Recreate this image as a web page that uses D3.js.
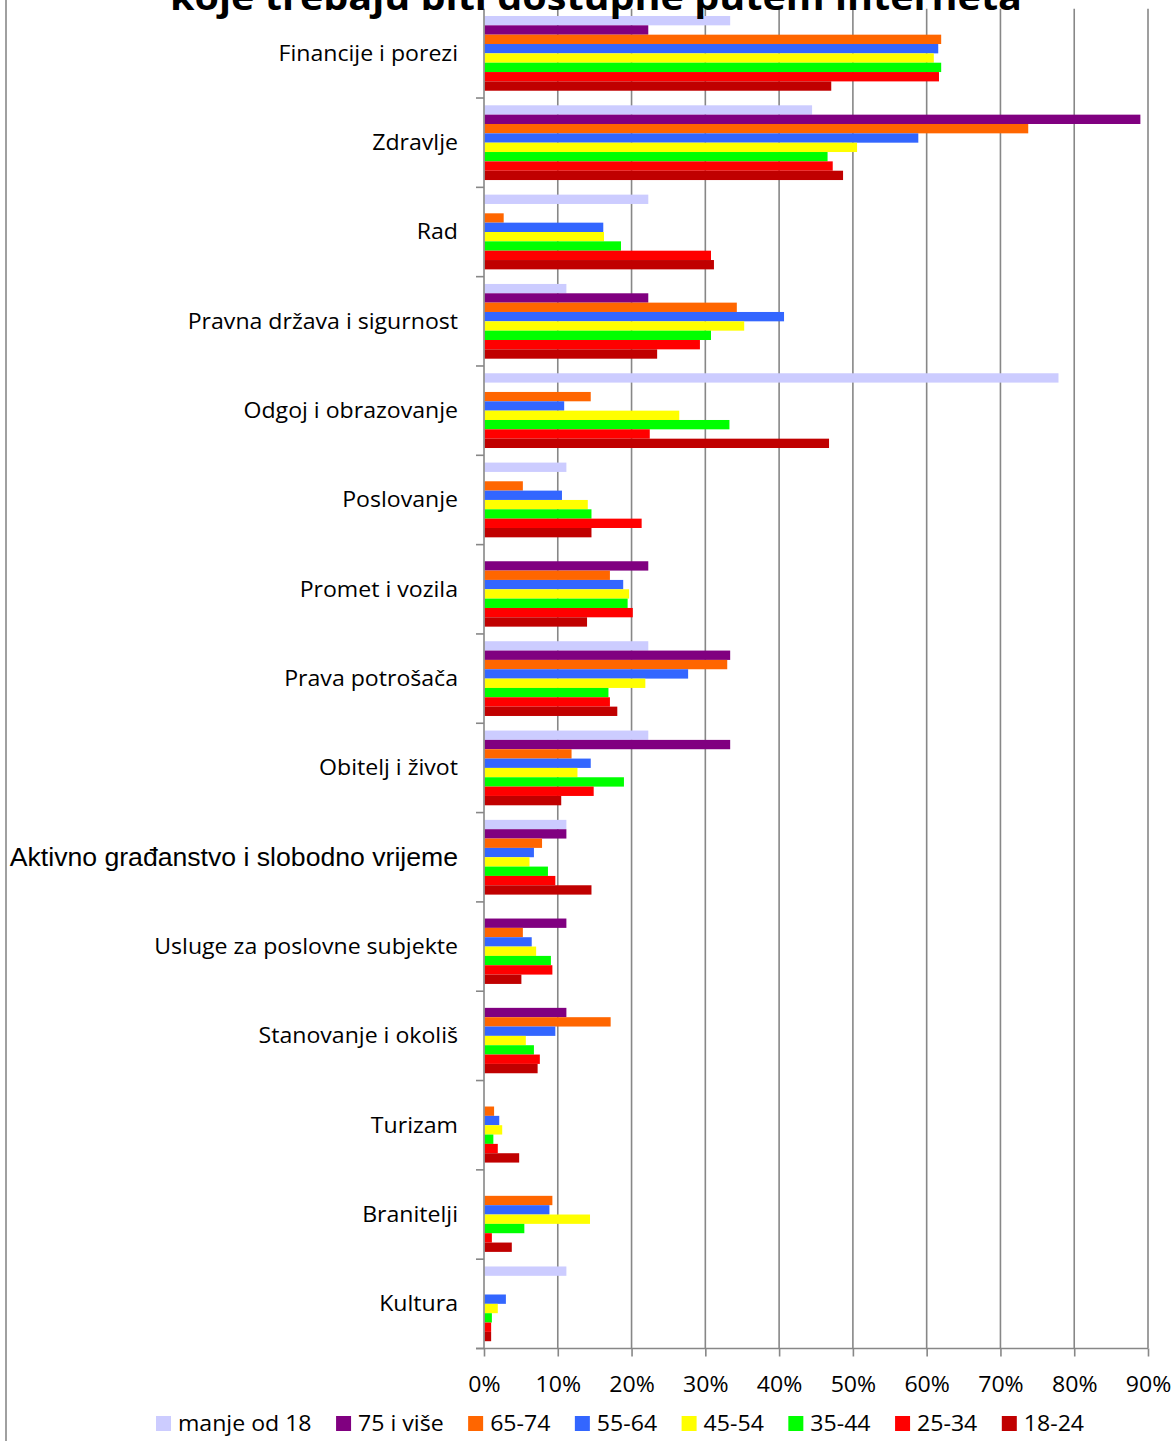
<!DOCTYPE html>
<html><head><meta charset="utf-8">
<script src="https://cdn.jsdelivr.net/npm/d3@7"></script>
<style>body{margin:0;background:#fff;} svg{display:block;}</style>
</head><body>
<svg id="c" width="1175" height="1441"></svg>
<script>
const title = "koje trebaju biti dostupne putem interneta";
const categories = ["Financije i porezi","Zdravlje","Rad","Pravna država i sigurnost","Odgoj i obrazovanje","Poslovanje","Promet i vozila","Prava potrošača","Obitelj i život","Aktivno građanstvo i slobodno vrijeme","Usluge za poslovne subjekte","Stanovanje i okoliš","Turizam","Branitelji","Kultura"];
const series = ["manje od 18","75 i više","65-74","55-64","45-54","35-44","25-34","18-24"];
const colors = ["#ccccff","#800080","#ff6600","#3366ff","#ffff00","#00ff00","#ff0000","#c00000"];
// values in %, one array per series, in category order
const manjeOd18 = [33.3,44.4,22.2,11.1,77.8,11.1,0,22.2,22.2,11.1,0,0,0,0,11.1];
const v75iVise  = [22.2,88.9,0,22.2,0,0,22.2,33.3,33.3,11.1,11.1,11.1,0,0,0];
const v65_74    = [61.9,73.7,2.6,34.2,14.4,5.2,17.0,32.9,11.8,7.8,5.2,17.1,1.3,9.2,0];
const v55_64    = [61.5,58.8,16.1,40.6,10.8,10.5,18.8,27.6,14.4,6.7,6.4,9.6,2.0,8.8,2.9];
const v45_54    = [60.9,50.5,16.2,35.2,26.4,14.0,19.6,21.8,12.6,6.1,7.0,5.6,2.4,14.3,1.8];
const v35_44    = [61.9,46.5,18.5,30.7,33.2,14.5,19.4,16.8,18.9,8.6,9.0,6.7,1.2,5.4,1.0];
const v25_34    = [61.6,47.2,30.7,29.2,22.4,21.3,20.1,17.0,14.8,9.6,9.2,7.5,1.8,1.0,0.9];
const v18_24    = [47.0,48.6,31.1,23.4,46.7,14.5,13.9,18.0,10.4,14.5,5.0,7.2,4.7,3.7,0.9];
const seriesValues = [manjeOd18,v75iVise,v65_74,v55_64,v45_54,v35_44,v25_34,v18_24];
const xTicks = [0,10,20,30,40,50,60,70,80,90];

const svg = d3.select("#c");
const FONT = "'Open Sans', sans-serif";
const ARIAL = "'Liberation Sans', Arial, sans-serif";
const SX = 1.1; // horizontal stretch to mimic reference text proportions
const gridColor = "#878787";

// left border
svg.append("line").attr("x1",6).attr("x2",6).attr("y1",0).attr("y2",1441)
  .attr("stroke","#a0a0a0").attr("stroke-width",2);

const x = d3.scaleLinear().domain([0,90]).range([484,1148]);
const y = d3.scaleBand().domain(categories).range([8.7,1348.5]).padding(0);
const yi = d3.scaleBand().domain(series).range([0,y.bandwidth()]).paddingInner(0).paddingOuter(0.78);

// gridlines
svg.append("g").selectAll("line").data(xTicks.slice(1)).join("line")
  .attr("x1",d=>x(d)).attr("x2",d=>x(d)).attr("y1",8.7).attr("y2",1348.5)
  .attr("stroke",gridColor).attr("stroke-width",1.6);

// bars
const gBars = svg.append("g");
series.forEach((s,si)=>{
  gBars.append("g").selectAll("rect").data(categories.map((c,ci)=>({c,v:seriesValues[si][ci]})).filter(d=>d.v>0))
    .join("rect")
    .attr("x",x(0)+0.5)
    .attr("y",d=>y(d.c)+yi(s))
    .attr("width",d=>x(d.v)-x(0))
    .attr("height",yi.bandwidth())
    .attr("fill",colors[si]);
});

// y axis
const gy = svg.append("g").attr("transform",`translate(${x(0)},0)`);
gy.append("line").attr("x1",0).attr("x2",0).attr("y1",8.7).attr("y2",1348.5).attr("stroke",gridColor).attr("stroke-width",1.6);
const boundaries = categories.map(c=>y(c)+y.bandwidth());
gy.selectAll("line.tk").data(boundaries).join("line").attr("class","tk")
  .attr("x1",-8).attr("x2",0).attr("y1",d=>d).attr("y2",d=>d).attr("stroke",gridColor).attr("stroke-width",1.6);

// category labels
const labels = svg.append("g").selectAll("text").data(categories).join("text")
  .attr("dy","0.35em").attr("text-anchor","end")
  .attr("fill","#000").text(d=>d);
labels.filter(d=>!d.startsWith("Aktivno")).style("font-family",FONT).style("font-size","21px")
  .attr("transform",d=>`translate(458,${y(d)+y.bandwidth()/2}) scale(${SX},1)`);
labels.filter(d=>d.startsWith("Aktivno")).style("font-family",ARIAL).style("font-size","25px")
  .attr("transform",d=>`translate(458,${y(d)+y.bandwidth()/2}) scale(1.065,1)`);

// x axis
const xAxis = d3.axisBottom(x).tickValues(xTicks).tickSize(8).tickFormat(d=>d+"%");
const gx = svg.append("g").attr("transform","translate(0,1348.5)").call(xAxis);
gx.select(".domain").attr("stroke",gridColor).attr("stroke-width",1.6).attr("d",`M${x(0)-8},0H${x(90)}`);
gx.selectAll(".tick line").attr("stroke",gridColor).attr("stroke-width",1.6);
gx.selectAll(".tick text").style("font-family",FONT).style("font-size","21px").attr("fill","#000")
  .attr("y",0).attr("dy","0").attr("transform",`translate(0,43) scale(${SX},1)`);

// title (clipped at top, as in the reference)
svg.append("text").attr("x",596).attr("y",10).attr("text-anchor","middle")
  .style("font-family",FONT).style("font-weight","bold").style("font-size","36px")
  .attr("textLength",852).attr("lengthAdjust","spacingAndGlyphs")
  .attr("fill","#000").text(title);

// legend
const lg = svg.append("g");
let lx = 156;
series.forEach((s,i)=>{
  lg.append("rect").attr("x",lx).attr("y",1416).attr("width",15).attr("height",15).attr("fill",colors[i]);
  const t = lg.append("text").attr("transform",`translate(${lx+22},1431) scale(${SX},1)`)
    .style("font-family",FONT).style("font-size","21px").attr("fill","#000").text(s);
  lx += 22 + t.node().getComputedTextLength()*SX + 24.5;
});
</script>
</body></html>
